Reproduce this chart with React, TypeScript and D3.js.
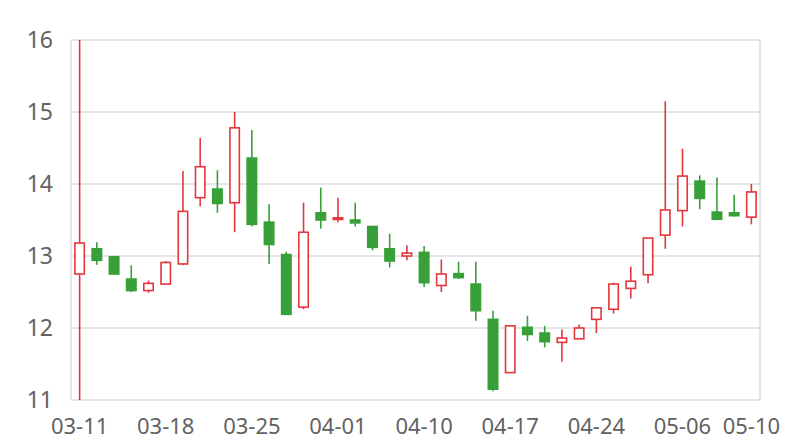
import { useEffect, useRef } from "react";
import * as d3 from "d3";

// trading days (MM-DD)
const dates = [
  "03-11", "03-12", "03-13", "03-14", "03-15",
  "03-18", "03-19", "03-20", "03-21", "03-22",
  "03-25", "03-26", "03-27", "03-28", "03-29",
  "04-01", "04-02", "04-03", "04-08", "04-09",
  "04-10", "04-11", "04-12", "04-15", "04-16",
  "04-17", "04-18", "04-19", "04-22", "04-23",
  "04-24", "04-25", "04-26", "04-29", "04-30",
  "05-06", "05-07", "05-08", "05-09", "05-10",
];

const opens = [
  12.75, 13.1, 12.99, 12.68, 12.52, 12.61, 12.89, 13.81, 13.93, 13.74,
  14.36, 13.47, 13.02, 12.29, 13.6, 13.51, 13.5, 13.41, 13.1, 13.0,
  13.05, 12.59, 12.755, 12.61, 12.12, 11.38, 12.01, 11.93, 11.8, 11.85,
  12.12, 12.26, 12.55, 12.74, 13.29, 13.63, 14.04, 13.61, 13.6, 13.54,
];
const closes = [
  13.18, 12.94, 12.75, 12.52, 12.62, 12.91, 13.62, 14.24, 13.73, 14.78,
  13.44, 13.16, 12.19, 13.33, 13.5, 13.53, 13.46, 13.12, 12.93, 13.04,
  12.63, 12.75, 12.7, 12.24, 11.15, 12.03, 11.91, 11.81, 11.86, 12.0,
  12.28, 12.61, 12.65, 13.25, 13.64, 14.11, 13.8, 13.51, 13.56, 13.89,
];
const highs = [
  16.0, 13.19, 13.0, 12.87, 12.66, 12.93, 14.18, 14.64, 14.19, 15.0,
  14.75, 13.72, 13.06, 13.74, 13.95, 13.81, 13.74, 13.41, 13.31, 13.15,
  13.14, 12.95, 12.92, 12.92, 12.24, 12.03, 12.17, 12.03, 11.98, 12.05,
  12.28, 12.63, 12.85, 13.25, 15.15, 14.49, 14.12, 14.09, 13.85, 14.0,
];
const lows = [
  11.0, 12.88, 12.75, 12.5, 12.49, 12.61, 12.87, 13.69, 13.6, 13.33,
  13.41, 12.89, 12.19, 12.26, 13.38, 13.47, 13.41, 13.08, 12.84, 12.94,
  12.57, 12.5, 12.68, 12.1, 11.12, 11.38, 11.82, 11.73, 11.53, 11.85,
  11.93, 12.2, 12.41, 12.62, 13.1, 13.41, 13.65, 13.5, 13.55, 13.44,
];

const yTicks = [11, 12, 13, 14, 15, 16];
const xTickLabels = ["03-11", "03-18", "03-25", "04-01", "04-10", "04-17", "04-24", "05-06", "05-10"];

const UP = "#e5373b";
const DOWN = "#37a038";

export default function App() {
  const svgRef = useRef<SVGSVGElement>(null);

  useEffect(() => {
    if (!svgRef.current) return;
    const svg = d3.select(svgRef.current);
    svg.selectAll("*").remove();

    const width = 800;
    const height = 440;
    const margin = { top: 40, right: 40, bottom: 40, left: 71 };
    const innerW = width - margin.left - margin.right;
    const innerH = height - margin.top - margin.bottom;

    const data = dates.map((d, i) => ({
      date: d,
      open: opens[i],
      close: closes[i],
      high: highs[i],
      low: lows[i],
    }));

    const x = d3
      .scaleBand<string>()
      .domain(dates)
      .range([0, innerW])
      .paddingInner(0.36)
      .paddingOuter(0.18);

    const y = d3.scaleLinear().domain([11, 16]).range([innerH, 0]);

    const g = svg
      .append("g")
      .attr("transform", `translate(${margin.left},${margin.top})`);

    // Grid lines
    g.append("g")
      .selectAll("line")
      .data(yTicks)
      .join("line")
      .attr("x1", 0)
      .attr("x2", innerW)
      .attr("y1", (d) => y(d))
      .attr("y2", (d) => y(d))
      .attr("stroke", "#cccccc")
      .attr("stroke-width", 1);

    // Frame sides
    g.append("line")
      .attr("x1", 0)
      .attr("x2", 0)
      .attr("y1", 0)
      .attr("y2", innerH)
      .attr("stroke", "#cccccc");
    g.append("line")
      .attr("x1", innerW)
      .attr("x2", innerW)
      .attr("y1", 0)
      .attr("y2", innerH)
      .attr("stroke", "#cccccc");

    // Y labels
    g.append("g")
      .selectAll("text")
      .data(yTicks)
      .join("text")
      .attr("x", -18)
      .attr("y", (d) => y(d))
      .attr("dy", "0.35em")
      .attr("text-anchor", "end")
      .attr("fill", "#626262")
      .attr("font-size", "23px")
      .attr("font-family", "'Noto Sans', sans-serif")
      .text((d) => d);

    // X labels
    g.append("g")
      .selectAll("text")
      .data(xTickLabels)
      .join("text")
      .attr("x", (d) => (x(d) ?? 0) + x.bandwidth() / 2)
      .attr("y", innerH + 34)
      .attr("text-anchor", "middle")
      .attr("fill", "#626262")
      .attr("font-size", "22px")
      .attr("font-family", "'Noto Sans', sans-serif")
      .text((d) => d);

    const candles = g
      .append("g")
      .selectAll("g")
      .data(data)
      .join("g");

    // Wicks
    candles
      .append("line")
      .attr("x1", (d) => (x(d.date) ?? 0) + x.bandwidth() / 2)
      .attr("x2", (d) => (x(d.date) ?? 0) + x.bandwidth() / 2)
      .attr("y1", (d) => y(d.high))
      .attr("y2", (d) => y(d.low))
      .attr("stroke", (d) => (d.close >= d.open ? UP : DOWN))
      .attr("stroke-width", 1.6);

    // Bodies
    candles
      .append("rect")
      .attr("x", (d) => (x(d.date) ?? 0) + 0.8)
      .attr("width", x.bandwidth() - 1.6)
      .attr("y", (d) => y(Math.max(d.open, d.close)))
      .attr("height", (d) => Math.max(1.6, Math.abs(y(d.open) - y(d.close))))
      .attr("fill", (d) => (d.close >= d.open ? "#ffffff" : DOWN))
      .attr("stroke", (d) => (d.close >= d.open ? UP : DOWN))
      .attr("stroke-width", 1.6);
  }, []);

  return (
    <svg
      ref={svgRef}
      width={800}
      height={440}
      viewBox="0 0 800 440"
      style={{ position: "absolute", left: 0, top: 0, background: "#ffffff" }}
    />
  );
}
